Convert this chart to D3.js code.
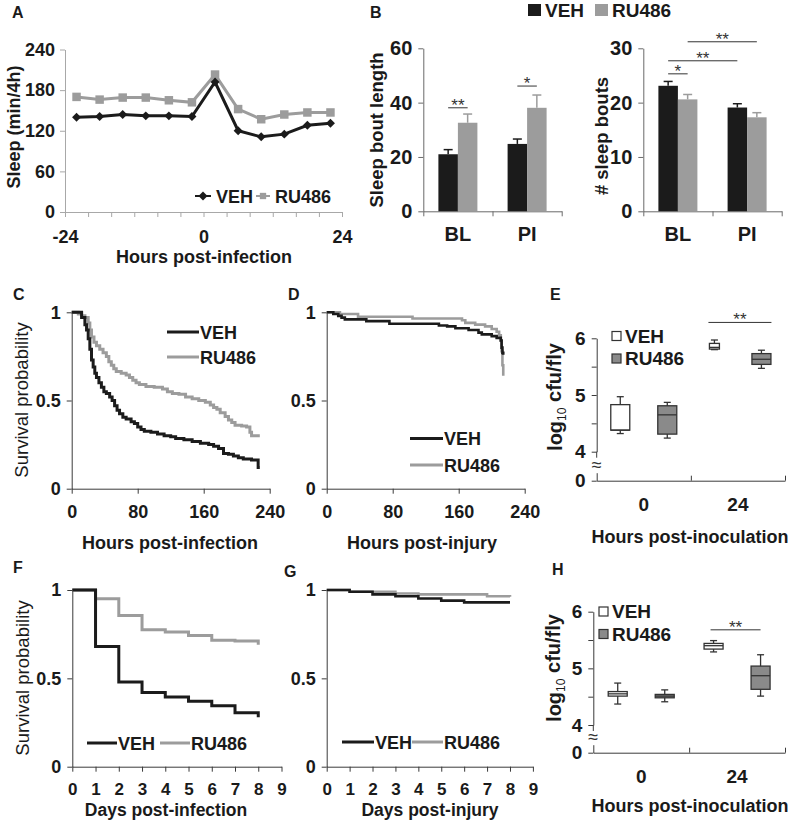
<!DOCTYPE html>
<html><head><meta charset="utf-8">
<script src="https://cdn.jsdelivr.net/npm/d3@7"></script>
<style>
body{margin:0;background:#fff}
svg{display:block}
</style></head><body>
<svg id="fig" width="788" height="820"></svg>
<script>
// ================= DATA =================
// Panel A: sleep per 4h bin
const sleepHours = [-22,-18,-14,-10,-6,-2,2,6,10,14,18,22];
const sleepVEH   = [140,141,144,142,142,141,192,120,111,115,128,131];
const sleepRU486 = [170,166,169,169,165,162,203,152,137,144,147,147];
const sleepYTicks = [0,60,120,180,240];
const sleepXLabels = [-24,0,24];

// Panel B
const boutGroups = ["BL","PI"];
const boutLenVEH = [21.0,24.8];
const boutLenVEHErr = [1.7,1.8];
const boutLenRU486 = [32.6,38.1];
const boutLenRU486Err = [3.2,4.7];
const boutNumVEH = [23.1,19.1];
const boutNumVEHErr = [0.8,0.7];
const boutNumRU486 = [20.6,17.3];
const boutNumRU486Err = [0.9,0.85];
const boutLenTicks = [0,20,40,60];
const boutNumTicks = [0,10,20,30];
const boutLenSig = [
  {a:["BL","VEH"], b:["BL","RU486"], y:38.1, label:"**"},
  {a:["PI","VEH"], b:["PI","RU486"], y:46.1, label:"*"}
];
const boutNumSig = [
  {a:["BL","VEH"], b:["BL","RU486"], y:25.3, label:"*"},
  {a:["BL","VEH"], b:["PI","VEH"], y:27.7, label:"**"},
  {a:["BL","RU486"], b:["PI","RU486"], y:31.2, label:"**"}
];

// Panel C: survival after infection (hours, probability)
const survInfVEH = [[0,1],[12,0.97],[16,0.93],[18,0.9],[20,0.85],[22,0.79],[24,0.73],[26,0.69],[28,0.655],[30,0.63],[33,0.6],[36,0.575],[39,0.55],[42,0.54],[46,0.52],[49,0.5],[52,0.47],[55,0.445],[58,0.425],[62,0.405],[66,0.395],[72,0.38],[76,0.37],[80,0.35],[84,0.335],[88,0.325],[96,0.32],[104,0.31],[112,0.3],[120,0.295],[126,0.285],[136,0.278],[146,0.268],[156,0.258],[166,0.25],[172,0.24],[178,0.228],[184,0.2],[190,0.195],[196,0.185],[202,0.175],[208,0.168],[218,0.163],[226,0.12],[228,0.12]];
const survInfRU486 = [[0,1],[8,0.99],[12,0.98],[16,0.97],[20,0.94],[22,0.9],[24,0.86],[27,0.83],[30,0.81],[34,0.79],[38,0.77],[42,0.75],[45,0.72],[48,0.7],[51,0.68],[54,0.665],[60,0.655],[66,0.645],[70,0.63],[74,0.615],[78,0.6],[82,0.59],[90,0.58],[100,0.575],[110,0.565],[116,0.55],[122,0.54],[130,0.535],[138,0.52],[146,0.51],[154,0.5],[162,0.49],[168,0.475],[172,0.46],[176,0.45],[180,0.43],[186,0.41],[190,0.39],[194,0.375],[198,0.36],[206,0.355],[212,0.35],[216,0.32],[218,0.3],[228,0.3]];
// Panel D: survival after injury
const survInjVEH = [[0,1],[8,0.99],[14,0.98],[18,0.97],[22,0.96],[48,0.95],[76,0.935],[136,0.925],[146,0.92],[156,0.91],[172,0.9],[184,0.885],[188,0.875],[200,0.865],[206,0.855],[211,0.84],[212,0.8],[213,0.77],[214,0.76]];
const survInjRU486 = [[0,1],[16,0.99],[38,0.975],[104,0.965],[164,0.955],[168,0.94],[180,0.93],[192,0.92],[200,0.905],[206,0.89],[209,0.87],[211,0.84],[212,0.78],[213,0.7],[214,0.64]];
const survHourTicks = [0,80,160,240];
const survYTicks = [0,0.5,1];

// Panel F: survival after infection (days)
const survDayInfVEH = [[0,1],[1,0.68],[2,0.48],[3,0.42],[4,0.395],[5,0.37],[6,0.345],[7,0.305],[8,0.28]];
const survDayInfRU486 = [[0,1],[1,0.95],[2,0.855],[3,0.775],[4,0.762],[5,0.742],[6,0.716],[7,0.712],[8,0.69]];
// Panel G: survival after injury (days)
const survDayInjVEH = [[0,1],[1,0.99],[2,0.975],[3,0.965],[4,0.952],[5,0.94],[6,0.93],[8,0.93]];
const survDayInjRU486 = [[0,1],[1,0.99],[3,0.98],[4,0.975],[7,0.965],[8,0.962]];
const dayTicks = [0,1,2,3,4,5,6,7,8,9];

// Panels E, H: log10 cfu/fly box plots [whiskerLow, q1, median, q3, whiskerHigh]
const cfuGroups = ["0","24"];
const cfuSeries = ["VEH","RU486"];
const cfuE_VEH   = [[4.32,4.38,4.38,4.83,4.97],[5.80,5.81,5.84,5.91,5.97]];
const cfuE_RU486 = [[4.24,4.31,4.65,4.81,4.87],[5.47,5.54,5.63,5.73,5.79]];
const cfuH_VEH   = [[4.37,4.51,4.55,4.59,4.74],[5.29,5.34,5.40,5.44,5.49]];
const cfuH_RU486 = [[4.41,4.48,4.51,4.54,4.62],[4.51,4.63,4.87,5.04,5.24]];
const cfuTicks = [4,4.5,5,5.5,6];
const cfuE_Sig = {group:"24", y:6.28, label:"**"};
const cfuH_Sig = {group:"24", y:5.68, label:"**"};

// ================= DRAWING =================
const FONT = "'Liberation Sans', Arial, Helvetica, sans-serif";
const BLACK = '#1b1b1b', GRAY = '#9c9c9c', BOXGRAY = '#8a8a8a', TXT = '#1a1a1a', AXC = '#3a3a3a';
const svg = d3.select('#fig');

function txt(x, y, s, o = {}) {
  return svg.append('text').attr('x', x).attr('y', y).text(s)
    .attr('font-family', FONT).attr('font-size', o.size || 18)
    .attr('font-weight', o.weight || 'bold').attr('fill', o.fill || TXT)
    .attr('text-anchor', o.anchor || 'start');
}
function vtxt(cx, cy, s, o = {}) {
  return svg.append('text').attr('transform', `translate(${cx},${cy}) rotate(-90)`)
    .attr('dy', '0.35em').text(s)
    .attr('font-family', FONT).attr('font-size', o.size || 18)
    .attr('font-weight', o.weight || 'bold').attr('fill', TXT).attr('text-anchor', 'middle');
}
function styleAxis(g, color, size, weight) {
  g.attr('font-family', FONT).attr('font-size', size).attr('font-weight', weight || 'bold');
  g.select('.domain').attr('stroke', color).attr('stroke-width', 1);
  g.selectAll('.tick line').attr('stroke', color).attr('stroke-width', 1);
  g.selectAll('.tick text').attr('fill', TXT);
  return g;
}
function hline(x1, x2, y, color, w) {
  svg.append('line').attr('x1', x1).attr('x2', x2).attr('y1', y).attr('y2', y)
    .attr('stroke', color).attr('stroke-width', w || 1);
}
function sig(x1, x2, y, label) {
  hline(x1, x2, y, '#333', 1);
  txt((x1 + x2) / 2, y + 3, label, {size: 17, weight: 'normal', anchor: 'middle', fill: '#333'});
}

// ---------- Panel A ----------
{
  txt(12, 18, 'A', {size: 16});
  const x = d3.scaleLinear().domain([-24, 24]).range([65, 342]);
  const y = d3.scaleLinear().domain([0, 240]).range([212, 49.5]);
  const AX = '#a8a8a8';
  styleAxis(svg.append('g').attr('transform', 'translate(65,0)')
    .call(d3.axisLeft(y).tickValues(sleepYTicks).tickSize(5).tickPadding(5).tickSizeOuter(0)), AX, 18);
  styleAxis(svg.append('g').attr('transform', 'translate(0,212)')
    .call(d3.axisBottom(x).tickValues(d3.range(-24, 25, 4)).tickSize(5).tickPadding(13).tickSizeOuter(0)
      .tickFormat(d => sleepXLabels.includes(d) ? String(d) : '')), AX, 18);
  const line = d3.line().x((d, i) => x(sleepHours[i])).y(d => y(d));
  svg.append('path').datum(sleepRU486).attr('d', line).attr('fill', 'none').attr('stroke', GRAY).attr('stroke-width', 3);
  svg.append('path').datum(sleepVEH).attr('d', line).attr('fill', 'none').attr('stroke', BLACK).attr('stroke-width', 3);
  const sq = d3.symbol(d3.symbolSquare, 72)();
  const dm = d3.symbol(d3.symbolSquare, 40)();
  svg.append('g').selectAll('path').data(sleepRU486).join('path')
    .attr('d', sq).attr('fill', GRAY).attr('transform', (d, i) => `translate(${x(sleepHours[i])},${y(d)})`);
  svg.append('g').selectAll('path').data(sleepVEH).join('path')
    .attr('d', dm).attr('fill', BLACK).attr('transform', (d, i) => `translate(${x(sleepHours[i])},${y(d)}) rotate(45)`);
  // legend
  hline(195, 211, 196, BLACK, 2);
  svg.append('path').attr('d', dm).attr('fill', BLACK).attr('transform', 'translate(203,196) rotate(45)');
  txt(216, 202.5, 'VEH');
  hline(256, 270, 196, GRAY, 2);
  svg.append('path').attr('d', d3.symbol(d3.symbolSquare, 40)()).attr('fill', GRAY).attr('transform', 'translate(263,196)');
  txt(275, 202.5, 'RU486');
  vtxt(14, 127, 'Sleep (min/4h)');
  txt(204, 263, 'Hours post-infection', {anchor: 'middle'});
}

// ---------- Panel B ----------
{
  txt(370, 18, 'B', {size: 16});
  // shared legend
  svg.append('rect').attr('x', 528).attr('y', 4).attr('width', 13).attr('height', 12).attr('fill', BLACK);
  txt(545, 17, 'VEH', {size: 19});
  svg.append('rect').attr('x', 595).attr('y', 4).attr('width', 13).attr('height', 12).attr('fill', GRAY);
  txt(612, 17, 'RU486', {size: 19});

  function barPanel(x0, x1, ymax, vV, eV, vR, eR, ticks, sigs, ylabel, lx, ly) {
    const AX = '#6a6a6a';
    const y = d3.scaleLinear().domain([0, ymax]).range([211.3, 48.3]);
    const xb = d3.scaleBand().domain(boutGroups).range([x0, x1]);
    const xs = d3.scaleBand().domain(['VEH', 'RU486']).range([-19.5, 19.5]);
    const xt = d3.scaleLinear().domain([0, 2]).range([x0, x1]);
    styleAxis(svg.append('g').attr('transform', `translate(${x0},0)`)
      .call(d3.axisLeft(y).tickValues(ticks).tickSize(5).tickPadding(6).tickSizeOuter(0)), AX, 20);
    styleAxis(svg.append('g').attr('transform', 'translate(0,211.3)')
      .call(d3.axisBottom(xt).tickValues([0, 1, 2]).tickSize(5).tickSizeOuter(0).tickFormat('')), AX, 20);
    const lab = styleAxis(svg.append('g').attr('transform', 'translate(0,211.3)')
      .call(d3.axisBottom(xb).tickSize(0).tickPadding(16)), AX, 20);
    lab.select('.domain').remove();
    const series = [
      {s: 'VEH', v: vV, e: eV, c: BLACK},
      {s: 'RU486', v: vR, e: eR, c: GRAY}
    ];
    series.forEach(se => {
      boutGroups.forEach((g, i) => {
        const bx = xb(g) + xb.bandwidth() / 2 + xs(se.s);
        const w = xs.bandwidth();
        const cxm = bx + w / 2;
        svg.append('line').attr('x1', cxm).attr('x2', cxm).attr('y1', y(se.v[i])).attr('y2', y(se.v[i] + se.e[i]))
          .attr('stroke', se.c).attr('stroke-width', 1.5);
        svg.append('line').attr('x1', cxm - 4.5).attr('x2', cxm + 4.5).attr('y1', y(se.v[i] + se.e[i])).attr('y2', y(se.v[i] + se.e[i]))
          .attr('stroke', se.c).attr('stroke-width', 1.5);
        svg.append('rect').attr('x', bx).attr('y', y(se.v[i])).attr('width', w).attr('height', y(0) - y(se.v[i]))
          .attr('fill', se.c);
      });
    });
    const cx = (g, s) => xb(g) + xb.bandwidth() / 2 + xs(s) + xs.bandwidth() / 2;
    sigs.forEach(sg => sig(cx(sg.a[0], sg.a[1]), cx(sg.b[0], sg.b[1]), y(sg.y), sg.label));
    vtxt(lx, ly, ylabel, {size: 18.5});
  }
  barPanel(423.3, 561.7, 60, boutLenVEH, boutLenVEHErr, boutLenRU486, boutLenRU486Err, boutLenTicks, boutLenSig, 'Sleep bout length', 377, 130);
  barPanel(643.3, 781.7, 30, boutNumVEH, boutNumVEHErr, boutNumRU486, boutNumRU486Err, boutNumTicks, boutNumSig, '# sleep bouts', 602, 136);
}

// ---------- survival panels ----------
function survPanel(o) {
  const x = d3.scaleLinear().domain(o.xdom).range([o.x0, o.x1]);
  const y = d3.scaleLinear().domain([0, 1]).range([o.y0, o.y1]);
  styleAxis(svg.append('g').attr('transform', `translate(${o.x0},0)`)
    .call(d3.axisLeft(y).tickValues(survYTicks).tickSize(5).tickPadding(6).tickSizeOuter(0)
      .tickFormat(d => d === 0.5 ? '0.5' : String(d))), AXC, 18);
  styleAxis(svg.append('g').attr('transform', `translate(0,${o.y0})`)
    .call(d3.axisBottom(x).tickValues(o.xticks).tickSize(5).tickPadding(o.pad).tickSizeOuter(0)), AXC, o.tsize);
  const line = d3.line().x(d => x(d[0])).y(d => y(d[1])).curve(d3.curveStepAfter);
  svg.append('path').datum(o.ru).attr('d', line).attr('fill', 'none').attr('stroke', GRAY).attr('stroke-width', o.lw);
  svg.append('path').datum(o.veh).attr('d', line).attr('fill', 'none').attr('stroke', BLACK).attr('stroke-width', o.lw);
}
function lineLegend(items) {
  items.forEach(it => {
    hline(it.x1, it.x2, it.y, it.c, 3);
    txt(it.x2 + 1, it.y + 6.5, it.t, {size: 18});
  });
}

// Panel C
txt(13, 300, 'C', {size: 16});
survPanel({xdom: [0, 240], x0: 71.7, x1: 269.7, y0: 488.7, y1: 312.3, xticks: survHourTicks, pad: 12, tsize: 18,
  veh: survInfVEH, ru: survInfRU486, lw: 3});
lineLegend([{x1: 167, x2: 199, y: 332, c: BLACK, t: 'VEH'}, {x1: 167, x2: 199, y: 357, c: GRAY, t: 'RU486'}]);
vtxt(22, 400, 'Survival probability', {weight: 'normal', size: 18.5});
txt(170, 549, 'Hours post-infection', {anchor: 'middle'});

// Panel D
txt(288, 300, 'D', {size: 16});
survPanel({xdom: [0, 240], x0: 326.7, x1: 524.7, y0: 488.7, y1: 312.3, xticks: survHourTicks, pad: 12, tsize: 18,
  veh: survInjVEH, ru: survInjRU486, lw: 2.6});
lineLegend([{x1: 410, x2: 443, y: 438.5, c: BLACK, t: 'VEH'}, {x1: 410, x2: 443, y: 465, c: GRAY, t: 'RU486'}]);
txt(422, 549, 'Hours post-injury', {anchor: 'middle'});

// Panel F
txt(13, 573, 'F', {size: 16});
survPanel({xdom: [0, 9], x0: 72.3, x1: 281.5, y0: 766.7, y1: 590, xticks: dayTicks, pad: 11, tsize: 17,
  veh: survDayInfVEH, ru: survDayInfRU486, lw: 3});
lineLegend([{x1: 87, x2: 117, y: 743, c: BLACK, t: 'VEH'}, {x1: 160, x2: 190, y: 743, c: GRAY, t: 'RU486'}]);
vtxt(23, 678, 'Survival probability', {weight: 'normal', size: 18.5});
txt(166, 816, 'Days post-infection', {anchor: 'middle', size: 17.5});

// Panel G
txt(284, 577, 'G', {size: 16});
survPanel({xdom: [0, 9], x0: 326.7, x1: 532.9, y0: 766.7, y1: 590, xticks: dayTicks, pad: 11, tsize: 17,
  veh: survDayInjVEH, ru: survDayInjRU486, lw: 2.6});
lineLegend([{x1: 342, x2: 374, y: 742, c: BLACK, t: 'VEH'}, {x1: 412, x2: 443, y: 742, c: GRAY, t: 'RU486'}]);
txt(430, 816, 'Days post-injury', {anchor: 'middle', size: 17.5});

// ---------- box panels ----------
function boxPanel(o) {
  const y = d3.scaleLinear().domain([4, 6]).range([o.y4, o.y6]);
  const yz = d3.scaleLinear().domain([0, 1]).range([o.yz, o.yz - 8]);
  const xb = d3.scaleBand().domain(cfuGroups).range([o.x0, o.x1]);
  const xs = d3.scalePoint().domain(cfuSeries).range([-23.5, 23.5]);
  const xt = d3.scaleLinear().domain([0, 2]).range([o.x0, o.x1]);
  styleAxis(svg.append('g').attr('transform', `translate(${o.x0},0)`)
    .call(d3.axisLeft(y).tickValues(cfuTicks).tickSize(5).tickPadding(6).tickSizeOuter(0)
      .tickFormat(d => Number.isInteger(d) ? String(d) : '')), AXC, 19);
  svg.append('line').attr('x1', o.x0).attr('x2', o.x0).attr('y1', o.y4).attr('y2', o.y4 + 6).attr('stroke', AXC);
  styleAxis(svg.append('g').attr('transform', `translate(${o.x0},0)`)
    .call(d3.axisLeft(yz).tickValues([0]).tickSize(5).tickPadding(6).tickSizeOuter(0).tickFormat(d => String(d))), AXC, 19);
  txt(o.x0, o.yz - 10, '\u2248', {size: 18, weight: 'normal', anchor: 'middle', fill: '#333'});
  styleAxis(svg.append('g').attr('transform', `translate(0,${o.yz})`)
    .call(d3.axisBottom(xt).tickValues([1, 2]).tickSize(-5).tickSizeOuter(0).tickFormat('')), AXC, 19);
  const lab = styleAxis(svg.append('g').attr('transform', `translate(0,${o.yz})`)
    .call(d3.axisBottom(xb).tickSize(0).tickPadding(17)), AXC, 19);
  lab.select('.domain').remove();
  const sets = [{s: 'VEH', d: o.veh, fill: '#fff'}, {s: 'RU486', d: o.ru, fill: BOXGRAY}];
  sets.forEach(st => {
    cfuGroups.forEach((g, i) => {
      const v = st.d[i];
      const cx = xb(g) + xb.bandwidth() / 2 + xs(st.s);
      const w = (o.narrow && o.narrow[0] === st.s && o.narrow[1] === g) ? 10 : 19;
      const gg = svg.append('g').attr('stroke', '#333').attr('stroke-width', 1.3);
      gg.append('line').attr('x1', cx).attr('x2', cx).attr('y1', y(v[0])).attr('y2', y(v[4]));
      gg.append('line').attr('x1', cx - 3.5).attr('x2', cx + 3.5).attr('y1', y(v[0])).attr('y2', y(v[0]));
      gg.append('line').attr('x1', cx - 3.5).attr('x2', cx + 3.5).attr('y1', y(v[4])).attr('y2', y(v[4]));
      gg.append('rect').attr('x', cx - w / 2).attr('y', y(v[3])).attr('width', w).attr('height', y(v[1]) - y(v[3])).attr('fill', st.fill);
      gg.append('line').attr('x1', cx - w / 2).attr('x2', cx + w / 2).attr('y1', y(v[2])).attr('y2', y(v[2]));
    });
  });
  const g = o.sig.group;
  const c = xb(g) + xb.bandwidth() / 2;
  sig(c + xs('VEH') + o.sigOff[0], c + xs('RU486') + o.sigOff[1], y(o.sig.y), o.sig.label);
  // legend
  o.legend.forEach(l => {
    svg.append('rect').attr('x', l.x).attr('y', l.y - l.s / 2).attr('width', l.s).attr('height', l.s)
      .attr('fill', l.fill).attr('stroke', '#333').attr('stroke-width', 1.2);
    txt(l.x + l.s + 4, l.y + 6.5, l.t, {size: 19});
  });
  vtxt(o.lx, o.ly, '', {size: 20}).call(t => {
    t.append('tspan').text('log');
    t.append('tspan').text('10').attr('font-size', 12).attr('font-weight', 'normal').attr('dy', '0.35em');
    t.append('tspan').text(' cfu/fly').attr('dy', '-0.25em');
  });
}

// Panel E
txt(550, 300, 'E', {size: 16});
boxPanel({x0: 596.7, x1: 785, y4: 451.7, y6: 338.3, yz: 480.7, veh: cfuE_VEH, ru: cfuE_RU486, narrow: ['VEH', '24'],
  sig: cfuE_Sig, sigOff: [-6, 10],
  legend: [{x: 612, y: 336, s: 9, fill: '#fff', t: 'VEH'}, {x: 612, y: 358.5, s: 9, fill: BOXGRAY, t: 'RU486'}],
  lx: 555, ly: 397});
txt(690, 543, 'Hours post-inoculation', {anchor: 'middle'});

// Panel H
txt(552, 575, 'H', {size: 16});
boxPanel({x0: 593.3, x1: 785, y4: 725, y6: 611.7, yz: 752.7, veh: cfuH_VEH, ru: cfuH_RU486,
  sig: cfuH_Sig, sigOff: [-3, 0],
  legend: [{x: 599, y: 611.5, s: 9, fill: '#fff', t: 'VEH'}, {x: 599, y: 634, s: 9, fill: BOXGRAY, t: 'RU486'}],
  lx: 554, ly: 668});
txt(690, 812, 'Hours post-inoculation', {anchor: 'middle'});
</script>
</body></html>
